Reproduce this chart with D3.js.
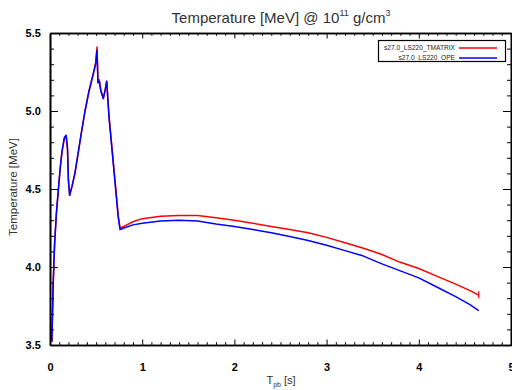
<!DOCTYPE html>
<html>
<head>
<meta charset="utf-8">
<script src="https://cdn.jsdelivr.net/npm/d3@7"></script>
<style>
  html, body { margin: 0; padding: 0; background: #fff; }
  svg { display: block; font-family: "Liberation Sans", Arial, Helvetica, sans-serif; }
</style>
</head>
<body>
<svg id="chart" width="512" height="390"></svg>
<script>
// Post-bounce time [s]
const timeEarly = [0.02, 0.035, 0.05, 0.07, 0.09, 0.11, 0.13, 0.155, 0.175, 0.19, 0.20, 0.213,
  0.24, 0.27, 0.30, 0.34, 0.38, 0.42, 0.47, 0.495, 0.51, 0.52, 0.535, 0.55, 0.578, 0.60, 0.615,
  0.64, 0.69, 0.74, 0.76];
const timeLate = [0.8, 0.9, 1.0, 1.2, 1.4, 1.6, 1.8, 2.0, 2.2, 2.4, 2.6, 2.8, 3.0, 3.2, 3.4,
  3.6, 3.8, 4.0, 4.2, 4.4, 4.55, 4.65];

// Temperature [MeV] for the TMATRIX run
const tmatrixEarly = [3.52, 3.90, 4.15, 4.35, 4.49, 4.63, 4.74, 4.82, 4.84, 4.75, 4.56, 4.46,
  4.52, 4.60, 4.71, 4.86, 5.00, 5.12, 5.24, 5.31, 5.41, 5.19, 5.20, 5.14, 5.08, 5.14, 5.19,
  4.97, 4.65, 4.33, 4.25];
const tmatrixLate = [4.26, 4.29, 4.31, 4.325, 4.33, 4.33, 4.315, 4.30, 4.28, 4.26, 4.24, 4.22,
  4.19, 4.155, 4.12, 4.08, 4.03, 3.99, 3.94, 3.89, 3.85, 3.82];

// Temperature [MeV] for the OPE run
const opeEarly = [3.52, 3.90, 4.15, 4.35, 4.49, 4.63, 4.74, 4.83, 4.845, 4.76, 4.55, 4.46,
  4.52, 4.60, 4.71, 4.86, 5.00, 5.12, 5.24, 5.30, 5.39, 5.18, 5.19, 5.13, 5.08, 5.14, 5.19,
  4.96, 4.64, 4.32, 4.24];
const opeLate = [4.25, 4.27, 4.28, 4.295, 4.30, 4.295, 4.275, 4.26, 4.24, 4.22, 4.195, 4.17,
  4.14, 4.105, 4.07, 4.02, 3.975, 3.93, 3.87, 3.81, 3.76, 3.72];

// Error bar on the last TMATRIX point
const tmatrixEndError = [3.80, 3.845];

const seriesNames = ["s27.0_LS220_TMATRIX", "s27.0_LS220_OPE"];
const seriesColors = ["#ff0000", "#0000ff"];

const xMajorTicks = [0, 1, 2, 3, 4, 5];
const yMajorTicks = [3.5, 4.0, 4.5, 5.0, 5.5];

const time = timeEarly.concat(timeLate);
const tmatrix = tmatrixEarly.concat(tmatrixLate);
const ope = opeEarly.concat(opeLate);

const svg = d3.select("#chart");
const frame = { left: 50, right: 511, top: 33, bottom: 345 };

const x = d3.scaleLinear().domain([0, 5]).range([frame.left, frame.right]);
const y = d3.scaleLinear().domain([3.5, 5.5]).range([frame.bottom, frame.top]);

const xMinor = d3.range(0, 5.0001, 0.1).map(v => +v.toFixed(1)).filter(v => !xMajorTicks.includes(v));
const yMinor = d3.range(3.5, 5.5001, 0.1).map(v => +v.toFixed(1)).filter(v => !yMajorTicks.includes(v));

// Curves (clipped to the frame)
svg.append("clipPath").attr("id", "plotclip")
  .append("rect").attr("x", frame.left).attr("y", frame.top)
  .attr("width", frame.right - frame.left).attr("height", frame.bottom - frame.top);

const line = d3.line().x(d => x(d[0])).y(d => y(d[1]));
const plot = svg.append("g").attr("clip-path", "url(#plotclip)");

[tmatrix, ope].forEach((vals, i) => {
  plot.append("path")
    .datum(time.map((t, j) => [t, vals[j]]))
    .attr("fill", "none")
    .attr("stroke", seriesColors[i])
    .attr("stroke-width", 1.5)
    .attr("stroke-linejoin", "round")
    .attr("d", line);
});

const tEnd = time[time.length - 1];
plot.append("line")
  .attr("x1", x(tEnd)).attr("x2", x(tEnd))
  .attr("y1", y(tmatrixEndError[0])).attr("y2", y(tmatrixEndError[1]))
  .attr("stroke", seriesColors[0]).attr("stroke-width", 1.2);

// Axes with inward ticks on all four sides
function styleAxis(g) {
  g.select(".domain").attr("stroke", "#000").attr("stroke-width", 1.6);
  g.selectAll(".tick line").attr("stroke", "#000").attr("stroke-width", 1);
}
function addAxis(axisFn, scale, ticks, size, transform, labels) {
  const a = axisFn(scale).tickValues(ticks).tickSizeInner(size).tickSizeOuter(0).tickPadding(8);
  a.tickFormat(labels ? labels : () => "");
  const g = svg.append("g").attr("transform", transform).call(a);
  styleAxis(g);
  return g;
}

const xl = addAxis(d3.axisBottom, x, xMajorTicks, -5.5, `translate(0,${frame.bottom})`, d3.format("d"));
addAxis(d3.axisBottom, x, xMinor, -2.8, `translate(0,${frame.bottom})`);
addAxis(d3.axisTop, x, xMajorTicks, -5.5, `translate(0,${frame.top})`);
addAxis(d3.axisTop, x, xMinor, -2.8, `translate(0,${frame.top})`);
const yl = addAxis(d3.axisLeft, y, yMajorTicks, -8, `translate(${frame.left},0)`, d3.format(".1f"));
addAxis(d3.axisLeft, y, yMinor, -4, `translate(${frame.left},0)`);
addAxis(d3.axisRight, y, yMajorTicks, -8, `translate(${frame.right},0)`);
addAxis(d3.axisRight, y, yMinor, -4, `translate(${frame.right},0)`);

[xl, yl].forEach(g => g.selectAll(".tick text")
  .attr("fill", "#000").attr("font-size", 11).attr("font-weight", "bold")
  .attr("font-family", "Liberation Sans, Arial, sans-serif"));
xl.selectAll(".tick text").attr("dy", "1.6em");
yl.selectAll(".tick text").attr("dx", "-0.1em");

// Title with superscripts
const title = svg.append("text")
  .attr("x", 281).attr("y", 23)
  .attr("text-anchor", "middle")
  .attr("font-size", 15).attr("fill", "#333");
title.append("tspan").text("Temperature [MeV] @ 10");
title.append("tspan").attr("dy", -7).attr("font-size", 9).text("11");
title.append("tspan").attr("dy", 7).text(" g/cm");
title.append("tspan").attr("dy", -7).attr("font-size", 9).text("3");

// Axis titles
const xt = svg.append("text")
  .attr("x", 281).attr("y", 384)
  .attr("text-anchor", "middle")
  .attr("font-size", 11).attr("fill", "#333");
xt.append("tspan").text("T");
xt.append("tspan").attr("dy", 3).attr("font-size", 7).text("pb");
xt.append("tspan").attr("dy", -3).text(" [s]");

svg.append("text")
  .attr("transform", `translate(17,${(frame.top + frame.bottom) / 2 - 2}) rotate(-90)`)
  .attr("text-anchor", "middle")
  .attr("font-size", 11.5).attr("fill", "#333")
  .text("Temperature [MeV]");

// Legend
const legend = svg.append("g");
legend.append("rect")
  .attr("x", 378.5).attr("y", 40.5).attr("width", 127).attr("height", 21)
  .attr("fill", "#fff").attr("stroke", "#000").attr("stroke-width", 1.2);
seriesNames.forEach((name, i) => {
  const yy = 48 + i * 10;
  legend.append("text")
    .attr("x", 455).attr("y", yy).attr("dy", "0.35em")
    .attr("text-anchor", "end")
    .attr("font-size", 6.6).attr("fill", "#222")
    .text(name);
  legend.append("line")
    .attr("x1", 459).attr("x2", 497).attr("y1", yy).attr("y2", yy)
    .attr("stroke", seriesColors[i]).attr("stroke-width", 1.5);
});
</script>
</body>
</html>
